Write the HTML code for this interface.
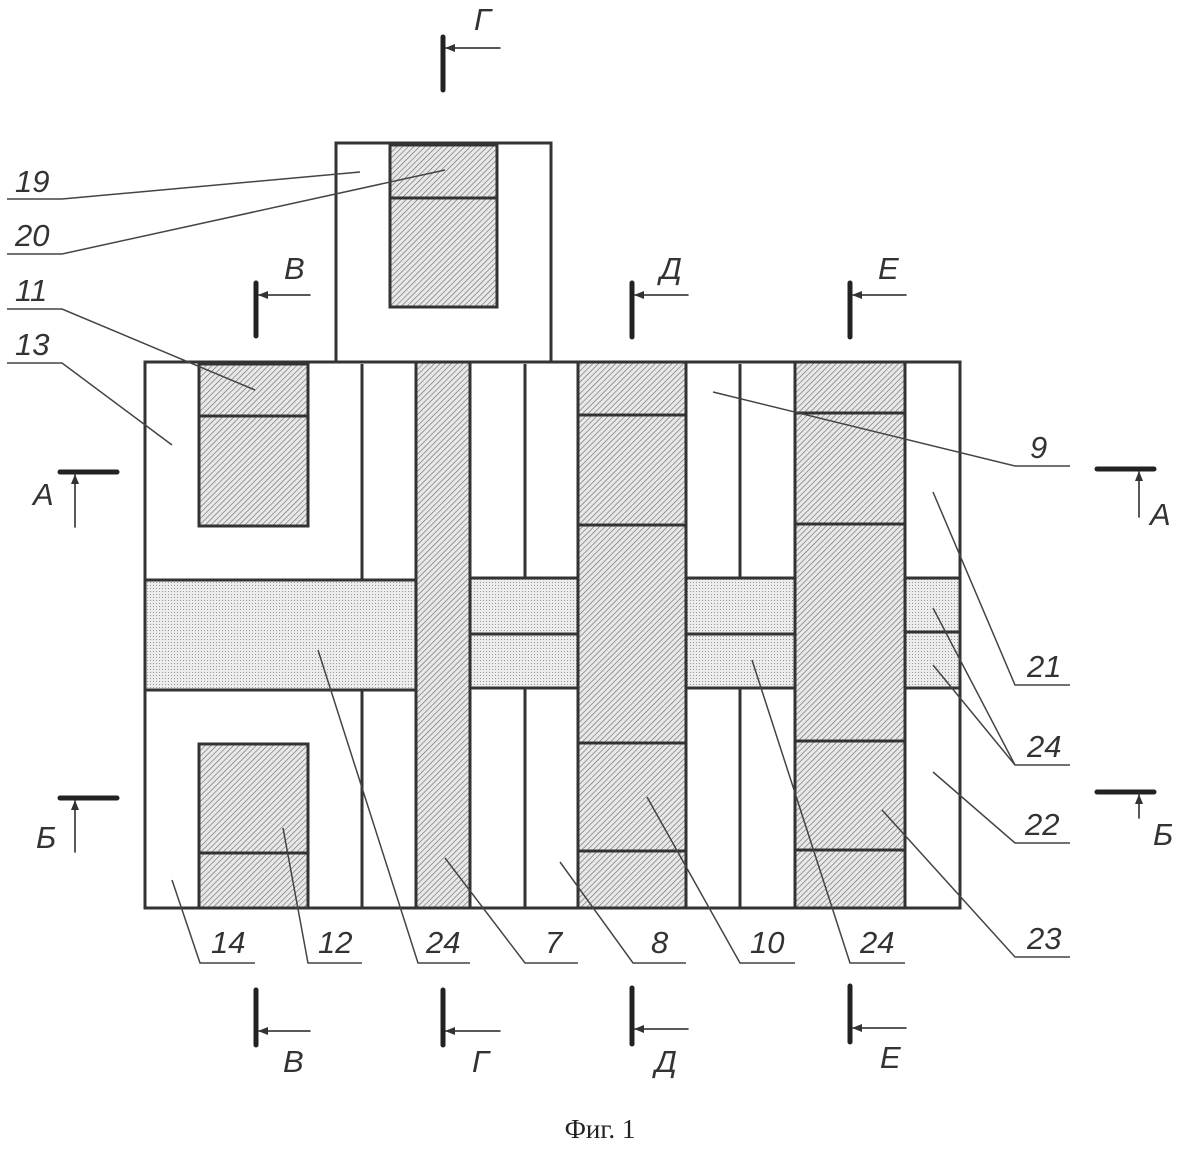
<!DOCTYPE html>
<html><head><meta charset="utf-8"><style>
html,body{margin:0;padding:0;background:#fff}
svg{display:block}
.t{font-family:"Liberation Sans",sans-serif;font-style:italic;font-size:31px;fill:#333}
</style></head><body>
<svg width="1195" height="1174" viewBox="0 0 1195 1174" xmlns="http://www.w3.org/2000/svg">
<defs>
<pattern id="h" width="4" height="4" patternUnits="userSpaceOnUse" patternTransform="rotate(45)">
<rect width="4" height="4" fill="#e8e8e8"/><line x1="0" y1="0" x2="0" y2="4" stroke="#666" stroke-width="1.2"/>
</pattern>
<pattern id="d" width="3" height="3" patternUnits="userSpaceOnUse">
<rect width="3" height="3" fill="#ececec"/><rect width="1" height="1" fill="#999"/>
</pattern>
<marker id="ar" markerWidth="10" markerHeight="8" refX="9" refY="4" orient="auto" markerUnits="userSpaceOnUse">
<path d="M0,0 L10,4 L0,8 z" fill="#333"/></marker>
</defs>
<g stroke="#333" stroke-width="3" fill="none">
<rect x="336" y="143" width="215" height="219" fill="#fff"/>
<rect x="390" y="145" width="107" height="162" fill="url(#h)"/>
<line x1="390" y1="198" x2="497" y2="198"/>
<rect x="145" y="362" width="815" height="546" fill="#fff"/>
<rect x="145" y="580" width="271" height="110" fill="url(#d)"/>
<rect x="470" y="578" width="108" height="110" fill="url(#d)"/>
<rect x="686" y="578" width="109" height="110" fill="url(#d)"/>
<rect x="905" y="578" width="55" height="110" fill="url(#d)"/>
<line x1="470" y1="634" x2="578" y2="634"/>
<line x1="686" y1="634" x2="795" y2="634"/>
<line x1="905" y1="632" x2="960" y2="632"/>
<rect x="199" y="364" width="109" height="162" fill="url(#h)"/>
<line x1="199" y1="416" x2="308" y2="416"/>
<rect x="199" y="744" width="109" height="164" fill="url(#h)"/>
<line x1="199" y1="853" x2="308" y2="853"/>
<line x1="362" y1="364" x2="362" y2="580"/><line x1="362" y1="690" x2="362" y2="908"/>
<line x1="525" y1="364" x2="525" y2="578"/><line x1="525" y1="688" x2="525" y2="908"/>
<line x1="740" y1="364" x2="740" y2="578"/><line x1="740" y1="688" x2="740" y2="908"/>
<rect x="416" y="362" width="54" height="546" fill="url(#h)"/>
<rect x="578" y="362" width="108" height="546" fill="url(#h)"/>
<line x1="578" y1="415" x2="686" y2="415"/><line x1="578" y1="525" x2="686" y2="525"/>
<line x1="578" y1="743" x2="686" y2="743"/><line x1="578" y1="851" x2="686" y2="851"/>
<rect x="795" y="362" width="110" height="546" fill="url(#h)"/>
<line x1="795" y1="413" x2="905" y2="413"/><line x1="795" y1="524" x2="905" y2="524"/>
<line x1="795" y1="741" x2="905" y2="741"/><line x1="795" y1="850" x2="905" y2="850"/>
</g>
<g stroke="#222" stroke-linecap="round">
<g stroke-width="5">
<line x1="443" y1="37" x2="443" y2="90"/>
<line x1="256" y1="283" x2="256" y2="336"/>
<line x1="632" y1="283" x2="632" y2="337"/>
<line x1="850" y1="283" x2="850" y2="337"/>
<line x1="256" y1="990" x2="256" y2="1045"/>
<line x1="443" y1="990" x2="443" y2="1045"/>
<line x1="632" y1="988" x2="632" y2="1044"/>
<line x1="850" y1="986" x2="850" y2="1042"/>
<line x1="60" y1="472" x2="117" y2="472"/>
<line x1="60" y1="798" x2="117" y2="798"/>
<line x1="1097" y1="469" x2="1154" y2="469"/>
<line x1="1097" y1="792" x2="1154" y2="792"/>
</g>
<g stroke-width="1.5" marker-end="url(#ar)">
<line x1="500" y1="48" x2="446" y2="48"/>
<line x1="310" y1="295" x2="259" y2="295"/>
<line x1="688" y1="295" x2="635" y2="295"/>
<line x1="906" y1="295" x2="853" y2="295"/>
<line x1="310" y1="1031" x2="259" y2="1031"/>
<line x1="500" y1="1031" x2="446" y2="1031"/>
<line x1="688" y1="1029" x2="635" y2="1029"/>
<line x1="906" y1="1028" x2="853" y2="1028"/>
<line x1="75" y1="527" x2="75" y2="475"/>
<line x1="75" y1="852" x2="75" y2="801"/>
<line x1="1139" y1="517" x2="1139" y2="472"/>
<line x1="1139" y1="818" x2="1139" y2="795"/>
</g>
</g>
<g stroke="#444" stroke-width="1.5" fill="none">
<polyline points="7,199 62,199 360,172"/>
<polyline points="7,254 62,254 445,170"/>
<polyline points="7,309 62,309 255,390"/>
<polyline points="7,363 62,363 172,445"/>
<polyline points="1070,466 1015,466 713,392"/>
<polyline points="1070,685 1015,685 933,492"/>
<polyline points="1070,765 1015,765 933,608"/>
<polyline points="1015,765 933,665"/>
<polyline points="1070,843 1015,843 933,772"/>
<polyline points="1070,957 1015,957 882,810"/>
<polyline points="255,963 200,963 172,880"/>
<polyline points="362,963 308,963 283,828"/>
<polyline points="470,963 418,963 318,650"/>
<polyline points="578,963 525,963 445,858"/>
<polyline points="686,963 633,963 560,862"/>
<polyline points="795,963 740,963 647,797"/>
<polyline points="905,963 850,963 752,660"/>
</g>
<g class="t">
<text x="15" y="192">19</text>
<text x="15" y="246">20</text>
<text x="15" y="301">11</text>
<text x="15" y="355">13</text>
<text x="284" y="279">В</text>
<text x="474" y="30">Г</text>
<text x="660" y="279">Д</text>
<text x="878" y="279">Е</text>
<text x="33" y="505">А</text>
<text x="36" y="848">Б</text>
<text x="1150" y="525">А</text>
<text x="1153" y="845">Б</text>
<text x="1030" y="458">9</text>
<text x="1027" y="677">21</text>
<text x="1027" y="757">24</text>
<text x="1025" y="835">22</text>
<text x="1027" y="949">23</text>
<text x="211" y="953">14</text>
<text x="318" y="953">12</text>
<text x="426" y="953">24</text>
<text x="545" y="953">7</text>
<text x="651" y="953">8</text>
<text x="750" y="953">10</text>
<text x="860" y="953">24</text>
<text x="283" y="1072">В</text>
<text x="472" y="1072">Г</text>
<text x="655" y="1072">Д</text>
<text x="880" y="1068">Е</text>
</g>
<text x="600" y="1138" text-anchor="middle" style="font-family:'Liberation Serif',serif;font-size:27px;fill:#222">Фиг. 1</text>
</svg>
</body></html>
